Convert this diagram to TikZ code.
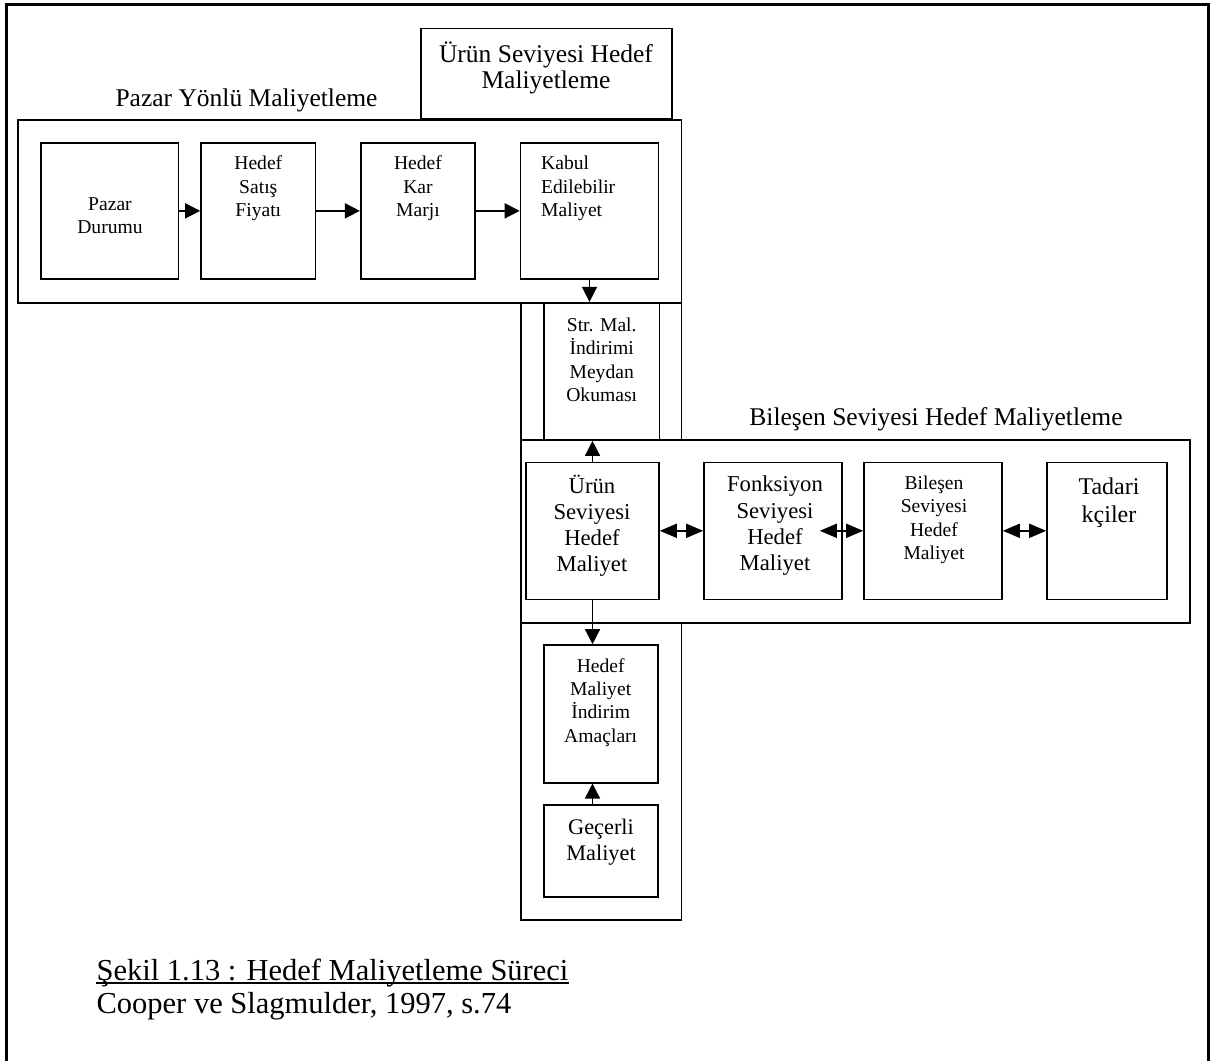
\documentclass[tikz,border=0pt]{standalone}
\usepackage{fontspec}
\setmainfont{Liberation Serif}
\usetikzlibrary{fit,arrows.meta}
\begin{document}
\begin{tikzpicture}[x=1pt,y=-1pt,
  box/.style={draw, line width=1.6pt, inner sep=0pt},
  grpbox/.style={draw, line width=1.8pt, inner sep=0pt},
  txt/.style={inner sep=0pt, align=center},
  arr/.style={line width=1.5pt, -{Triangle[length=15pt,width=15pt]}},
  darr/.style={line width=1.8pt, {Triangle[length=17pt,width=14pt]}-{Triangle[length=17pt,width=14pt]}},
  fA/.style={font=\fontsize{25.5}{26.5}\selectfont},
  fS/.style={font=\fontsize{19.6}{23.4}\selectfont},
  fM/.style={font=\fontsize{22.7}{26.2}\selectfont},
  fT/.style={font=\fontsize{24}{28}\selectfont},
  fG/.style={font=\fontsize{22.3}{26.7}\selectfont},
  fC/.style={font=\fontsize{30.5}{33}\selectfont}
]
\useasboundingbox (0,0) rectangle (1216,1061);
\draw[line width=3pt] (6,1061) -- (6,4) -- (1208.5,4) -- (1208.5,1061);

% top box
\node[box, fit={(420.7,28.3) (671.7,119)}] (ubox) {};
\node[txt, fA] (utxt) at (546,68.1) {Ürün Seviyesi Hedef\\Maliyetleme};

% market-driven costing
\node[txt, fA, anchor=base] (plab) at (246.5,106) {Pazar Yönlü Maliyetleme};
\node[grpbox, fit={(18,120) (681.5,302.7)}] (pframe) {};
\node[box, fit={(41,142.7) (178.6,279)}] (b1) {};
\node[txt, fS] (t1) at (110,215.7) {Pazar\\Durumu};
\node[box, fit={(201,142.7) (315.6,279)}] (b2) {};
\node[txt, fS] (t2) at (258.3,188.5) {Hedef\\Satış\\Fiyatı};
\node[box, fit={(360.7,142.7) (475,279)}] (b3) {};
\node[txt, fS] (t3) at (418,188.5) {Hedef\\Kar\\Marjı};
\node[box, fit={(520.5,142.7) (658.5,279)}] (b4) {};
\node[txt, fS, align=left, anchor=west] (t4) at (541,188.5) {Kabul\\Edilebilir\\Maliyet};

% upper column
\node[grpbox, fit={(521,302.7) (681.5,440)}] (col1) {};
\node[box, fit={(544,302.7) (659.5,440)}] (str) {};
\node[txt, fS] (tstr) at (601.7,359.7) {Str. Mal.\\İndirimi\\Meydan\\Okuması};

% component level
\node[txt, fA, anchor=base] (blab) at (936,425) {Bileşen Seviyesi Hedef Maliyetleme};
\node[grpbox, fit={(521,440) (1190,622.7)}] (bframe) {};
\node[box, fit={(526,462.3) (659,599.3)}] (c1) {};
\node[txt, fM] (tc1) at (592,525.7) {Ürün\\Seviyesi\\Hedef\\Maliyet};
\node[box, fit={(704,462.3) (842,599.3)}] (c2) {};
\node[txt, fM] (tc2) at (775,525.7) {Fonksiyon\\Seviyesi\\Hedef\\Maliyet};
\node[box, fit={(864,462.3) (1002,599.3)}] (c3) {};
\node[txt, fS] (tc3) at (934,519.8) {Bileşen\\Seviyesi\\Hedef\\Maliyet};
\node[box, fit={(1047,462.3) (1167,599.3)}] (c4) {};
\node[txt, fT] (tc4) at (1109,502.8) {Tadari\\kçiler};

% lower column
\node[grpbox, fit={(521,622.7) (681.5,920)}] (col2) {};
\node[box, fit={(544,645) (658,782.7)}] (d1) {};
\node[txt, fS] (td1) at (600.7,702.3) {Hedef\\Maliyet\\İndirim\\Amaçları};
\node[box, fit={(544,805) (658,897)}] (d2) {};
\node[txt, fG] (td2) at (601,842.3) {Geçerli\\Maliyet};

% arrows
\draw[arr] (b1.east) -- (b2.west);
\draw[arr] (b2.east) -- (b3.west);
\draw[arr] (b3.east) -- (b4.west);
\draw[arr] (b4.south) -- (b4.south |- str.north);
\draw[arr] (c1.north) -- (c1.north |- str.south);
\draw[darr] (c1.east) -- (c2.west);
\draw[darr] ([xshift=-23pt]c2.east) -- (c3.west);
\draw[darr] (c3.east) -- (c4.west);
\draw[arr] (c1.south) -- (c1.south |- d1.north);
\draw[arr] (d2.north -| c1.south) -- (d1.south -| c1.south);

% caption
\node[anchor=base west, inner sep=0pt, fC] (cap1) at (96.4,980) {Şekil 1.13 : Hedef Maliyetleme Süreci};
\node[anchor=base west, inner sep=0pt, fC] (cap2) at (96.4,1013) {Cooper ve Slagmulder, 1997, s.74};
\draw[line width=1.7pt] ([yshift=-3.3pt]cap1.base west) -- ([yshift=-3.3pt]cap1.base east);
\end{tikzpicture}
\end{document}
